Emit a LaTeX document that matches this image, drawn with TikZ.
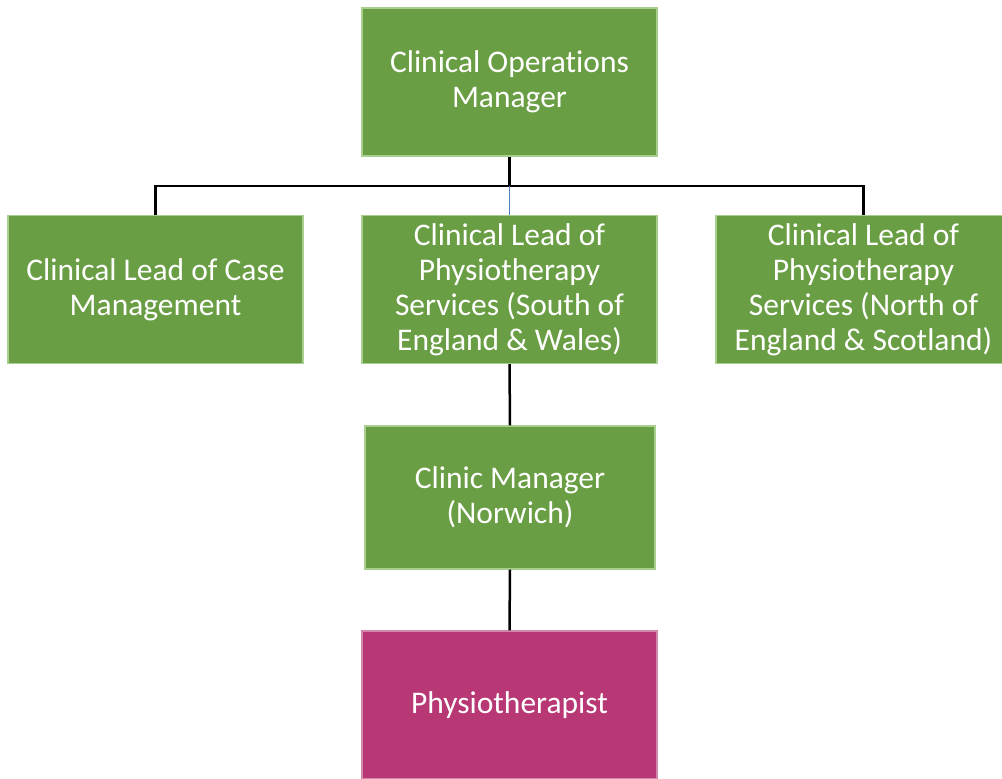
\documentclass[tikz,border=0pt]{standalone}
\usepackage{fontspec}
\setmainfont{Carlito}[Ligatures=NoCommon]
\usepackage{xcolor}
\definecolor{boxgreen}{HTML}{6A9E45}
\definecolor{boxedge}{HTML}{A9CF8F}
\definecolor{boxpink}{HTML}{B83775}
\definecolor{stemblue}{HTML}{4F81BD}
\tikzset{
  role/.style={draw=boxedge, line width=1.2pt, fill=boxgreen, text=white,
    minimum width=295pt, minimum height=148pt, align=center, inner sep=0pt,
    font=\fontsize{31.5}{35}\selectfont},
  link/.style={line width=2.5pt, black}
}
\begin{document}
\begin{tikzpicture}[x=1pt,y=1pt]
\useasboundingbox (0,0) rectangle (1002,779);
\node[role] (com) at (509.5,697) {Clinical Operations\\Manager};
\node[role] (case) at (155.5,489.5) {Clinical Lead of Case\\Management};
\node[role] (south) at (509.5,489.5) {Clinical Lead of\\Physiotherapy\\Services (South of\\England \& Wales)};
\node[role] (north) at (863.5,489.5) {Clinical Lead of\\Physiotherapy\\Services (North of\\England \& Scotland)};
\node[role, minimum width=290pt, minimum height=143pt] (clinic) at (510,281.5) {Clinic Manager\\(Norwich)};
\node[role, fill=boxpink, draw=boxpink!60] (physio) at (509.5,74) {Physiotherapist};
% connectors
\coordinate (bus) at (509.5,593);
\draw[link] (com.south) -- (bus);
\draw[link] (case.north) |- (bus) -| (north.north);
\draw[line width=1.8pt, stemblue] (bus) -- (south.north);
\draw[link] (south.south) -- (clinic.north);
\draw[link] (clinic.south) -- (physio.north);
\end{tikzpicture}
\end{document}
